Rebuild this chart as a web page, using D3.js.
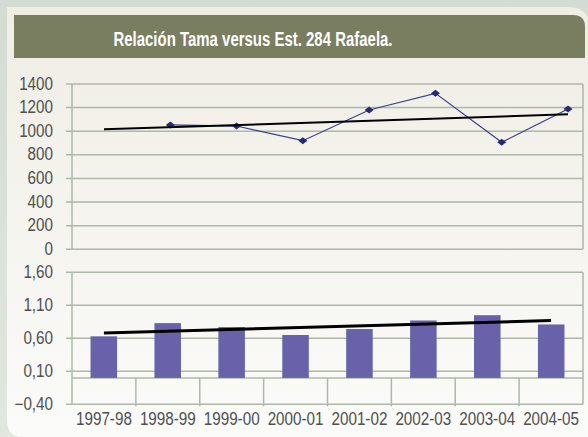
<!DOCTYPE html>
<html>
<head>
<meta charset="utf-8">
<script src="https://cdn.jsdelivr.net/npm/d3@7"></script>
<style>
  html, body { margin: 0; padding: 0; background: #d9dfd6; }
  svg { display: block; font-family: "Liberation Sans", Arial, sans-serif; }
</style>
</head>
<body>
<svg id="chart"></svg>
<script>
const seasons = ["1997-98", "1998-99", "1999-00", "2000-01", "2001-02", "2002-03", "2003-04", "2004-05"];
// upper panel: Tama values (no value for first season)
const tamaValues = [null, 1053, 1044, 920, 1180, 1321, 906, 1188];
const tamaTrend = [1016, 1143];   // start / end of trend line
const tamaTicks = [0, 200, 400, 600, 800, 1000, 1200, 1400];
// lower panel: ratio
const ratioValues = [0.63, 0.83, 0.77, 0.65, 0.74, 0.87, 0.95, 0.81];
const ratioTrend = [0.68, 0.87];
const ratioTicks = [-0.4, 0.1, 0.6, 1.1, 1.6];

const width = 588, height = 437;
const x0 = 72, x1 = 583;
const gridColor = "#aeb8a8";
const textColor = "#4f4f4f";
const narrow = 0.87;   // condensed look for the labels

const svg = d3.select("#chart")
    .attr("width", width)
    .attr("height", height);

const defs = svg.append("defs");
const grad = defs.append("linearGradient").attr("id", "cardGrad")
    .attr("x1", 0).attr("y1", 0).attr("x2", 0).attr("y2", 1);
grad.append("stop").attr("offset", "0%").attr("stop-color", "#efede4");
grad.append("stop").attr("offset", "100%").attr("stop-color", "#fbfbf9");
const bg = defs.append("linearGradient").attr("id", "bgGrad")
    .attr("x1", 0).attr("y1", 0).attr("x2", 0).attr("y2", 1);
bg.append("stop").attr("offset", "0%").attr("stop-color", "#d3dbd2");
bg.append("stop").attr("offset", "100%").attr("stop-color", "#e3e6df");

svg.append("rect").attr("width", width).attr("height", height).attr("fill", "url(#bgGrad)");

// card with rounded top-right and bottom-left corners
svg.append("path")
    .attr("d", "M7,7 L568,7 Q590,7 590,29 L590,437 L22,437 Q7,437 7,420 Z")
    .attr("fill", "url(#cardGrad)");

// title band
svg.append("path")
    .attr("d", "M14,15 L573,15 Q585,15 585,27 L585,58 L14,58 Z")
    .attr("fill", "#7a7e61");
svg.append("text")
    .attr("transform", "translate(253,45.5) scale(0.73,1)")
    .attr("text-anchor", "middle")
    .attr("fill", "#ffffff")
    .attr("font-weight", "bold")
    .attr("font-size", 20.5)
    .text("Relación Tama versus Est. 284 Rafaela.");

// ---------- upper panel ----------
const yTop = d3.scaleLinear().domain([0, 1400]).range([249.3, 84]);
const xTop = d3.scalePoint().domain(seasons).range([x0 + 32, x1 - 15]);

const upper = svg.append("g");
upper.selectAll(".grid").data(tamaTicks).enter().append("line")
    .attr("x1", x0 - 6).attr("x2", x1)
    .attr("y1", d => yTop(d)).attr("y2", d => yTop(d))
    .attr("stroke", gridColor).attr("stroke-width", 1.5);
upper.append("line")
    .attr("x1", x0).attr("x2", x0).attr("y1", yTop(1400)).attr("y2", yTop(0))
    .attr("stroke", gridColor).attr("stroke-width", 1.5);
upper.append("line")
    .attr("x1", x1).attr("x2", x1).attr("y1", yTop(1400)).attr("y2", yTop(0))
    .attr("stroke", gridColor).attr("stroke-width", 1.5);
upper.selectAll(".lbl").data(tamaTicks).enter().append("text")
    .attr("transform", d => `translate(53,${yTop(d) + 5.5}) scale(${narrow},1)`)
    .attr("text-anchor", "end")
    .attr("font-size", 17.5)
    .attr("fill", textColor)
    .text(d => d);

const tamaPts = seasons.map((s, i) => ({ s, v: tamaValues[i] })).filter(d => d.v !== null);
upper.append("path")
    .datum(tamaPts)
    .attr("fill", "none")
    .attr("stroke", "#3a3f8f")
    .attr("stroke-width", 1.2)
    .attr("d", d3.line().x(d => xTop(d.s)).y(d => yTop(d.v)));
upper.selectAll(".mk").data(tamaPts).enter().append("path")
    .attr("transform", d => `translate(${xTop(d.s)},${yTop(d.v)})`)
    .attr("d", "M-4.5,0 L0,-3.5 L4.5,0 L0,3.5 Z")
    .attr("fill", "#262a70");
upper.append("line")
    .attr("x1", xTop(seasons[0])).attr("x2", xTop(seasons[seasons.length - 1]))
    .attr("y1", yTop(tamaTrend[0])).attr("y2", yTop(tamaTrend[1]))
    .attr("stroke", "#000").attr("stroke-width", 2);

// ---------- lower panel ----------
const yBot = d3.scaleLinear().domain([-0.4, 1.6]).range([404.3, 272.3]);
const xBot = d3.scaleBand().domain(seasons).range([x0, x1]).paddingInner(0.585).paddingOuter(0.29);
const xCat = d3.scaleBand().domain(seasons).range([x0, x1]);

const lower = svg.append("g");
lower.selectAll(".grid").data(ratioTicks).enter().append("line")
    .attr("x1", x0 - 6).attr("x2", x1)
    .attr("y1", d => yBot(d)).attr("y2", d => yBot(d))
    .attr("stroke", gridColor).attr("stroke-width", 1.5);
lower.append("line")
    .attr("x1", x0).attr("x2", x0).attr("y1", yBot(1.6)).attr("y2", yBot(-0.4))
    .attr("stroke", gridColor).attr("stroke-width", 1.5);
lower.append("line")
    .attr("x1", x1).attr("x2", x1).attr("y1", yBot(1.6)).attr("y2", yBot(-0.4))
    .attr("stroke", gridColor).attr("stroke-width", 1.5);
lower.append("line")
    .attr("x1", x0).attr("x2", x1).attr("y1", yBot(0)).attr("y2", yBot(0))
    .attr("stroke", gridColor).attr("stroke-width", 1.5);
lower.selectAll(".tick").data(seasons.slice(1)).enter().append("line")
    .attr("x1", d => xCat(d)).attr("x2", d => xCat(d))
    .attr("y1", yBot(0)).attr("y2", yBot(-0.4) + 2)
    .attr("stroke", gridColor).attr("stroke-width", 1.5);
lower.selectAll(".lbl").data(ratioTicks).enter().append("text")
    .attr("transform", d => `translate(53,${yBot(d) + 5.5}) scale(${narrow},1)`)
    .attr("text-anchor", "end")
    .attr("font-size", 17.5)
    .attr("fill", textColor)
    .text(d => d3.format(".2f")(d).replace(".", ","));

lower.selectAll(".bar").data(ratioValues).enter().append("rect")
    .attr("x", (d, i) => xBot(seasons[i]))
    .attr("width", xBot.bandwidth())
    .attr("y", d => yBot(d))
    .attr("height", d => yBot(0) - yBot(d))
    .attr("fill", "#6961a9");

lower.append("line")
    .attr("x1", xCat(seasons[0]) + xCat.bandwidth() / 2)
    .attr("x2", xCat(seasons[seasons.length - 1]) + xCat.bandwidth() / 2)
    .attr("y1", yBot(ratioTrend[0])).attr("y2", yBot(ratioTrend[1]))
    .attr("stroke", "#000").attr("stroke-width", 3);

lower.selectAll(".cat").data(seasons).enter().append("text")
    .attr("transform", d => `translate(${xCat(d) + xCat.bandwidth() / 2},425) scale(${narrow},1)`)
    .attr("text-anchor", "middle")
    .attr("font-size", 17.5)
    .attr("fill", textColor)
    .text(d => d);
</script>
</body>
</html>
